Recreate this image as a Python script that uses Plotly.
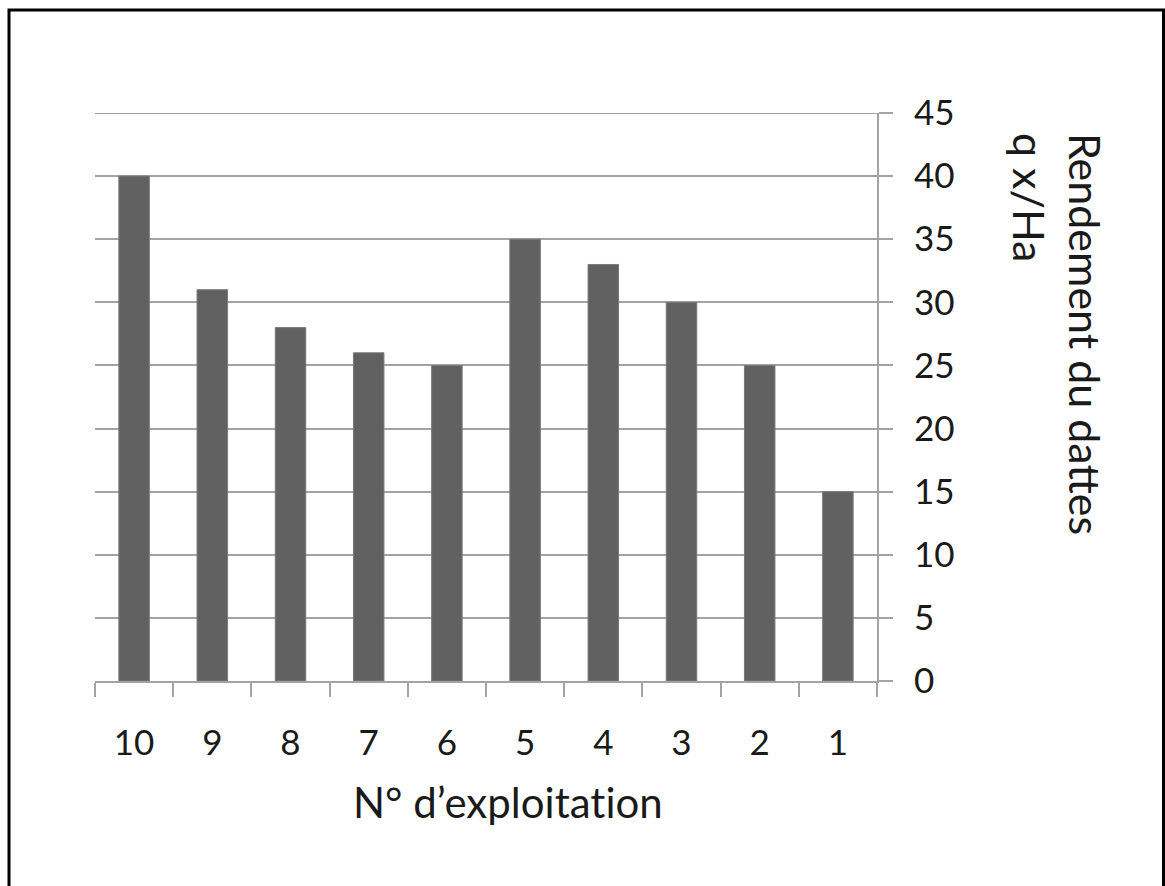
import plotly.graph_objects as go

categories = ["10", "9", "8", "7", "6", "5", "4", "3", "2", "1"]
rendement = [40, 31, 28, 26, 25, 35, 33, 30, 25, 15]
y_ticks = [0, 5, 10, 15, 20, 25, 30, 35, 40, 45]

W, H = 1165, 886
L, R, T, B = 95, 1165 - 877, 113, 886 - 681
PW, PH = W - L - R, H - T - B

def px_x(px):
    return (px - L) / PW

def px_y(py):
    return (H - B - py) / PH

FONT = "Lato, 'Open Sans', sans-serif"
GRID = "#a3a3a3"
NOLIG = '<span style="font-variant-ligatures:none;letter-spacing:0.01px">{}</span>'

fig = go.Figure(go.Bar(
    x=categories, y=rendement,
    marker=dict(color="#616161", line=dict(color="#7a7a7a", width=1)),
    width=0.39,
))

fig.update_layout(
    width=W, height=H,
    margin=dict(l=L, r=R, t=T, b=B, autoexpand=False),
    plot_bgcolor="white", paper_bgcolor="white",
    showlegend=False,
    font=dict(family=FONT, size=35, color="#1a1a1a"),
    xaxis=dict(
        type="category", categoryorder="array", categoryarray=categories,
        showline=True, linecolor=GRID, linewidth=2,
        ticks="outside", ticklen=14, tickwidth=2, tickcolor=GRID,
        tickson="boundaries", showgrid=False,
        ticklabelstandoff=30,
        tickfont=dict(size=35),
    ),
    yaxis=dict(
        side="right", range=[0, 45], tickvals=y_ticks,
        showline=True, linecolor=GRID, linewidth=2,
        ticks="outside", ticklen=14, tickwidth=2, tickcolor=GRID,
        showgrid=True, gridcolor=GRID, gridwidth=2,
        zeroline=False,
        ticklabelstandoff=14,
        tickfont=dict(size=35),
    ),
    annotations=[
        dict(
            text="Rendement du dattes<br>q x/Ha",
            xref="paper", yref="paper",
            x=px_x(1058), y=px_y(334),
            xanchor="center", yanchor="middle",
            textangle=90, align="left", showarrow=False,
            font=dict(family=FONT, size=43, color="#1a1a1a"),
        ),
        dict(
            text=NOLIG.format("N° d’exploitation"),
            xref="paper", yref="paper",
            x=px_x(508), y=px_y(802),
            xanchor="center", yanchor="middle",
            showarrow=False,
            font=dict(family=FONT, size=42, color="#1a1a1a"),
        ),
    ],
    shapes=[
        # top gridline (Plotly drops the gridline that sits on the plot edge)
        dict(type="line", xref="paper", yref="y",
             x0=0, x1=1, y0=y_ticks[-1], y1=y_ticks[-1],
             line=dict(color=GRID, width=2), layer="below"),
        dict(type="rect", xref="paper", yref="paper",
             x0=px_x(9), x1=px_x(1163.5), y0=px_y(900), y1=px_y(10),
             line=dict(color="black", width=3), fillcolor="rgba(0,0,0,0)",
             layer="above"),
    ],
)

fig.write_html("out.html")
